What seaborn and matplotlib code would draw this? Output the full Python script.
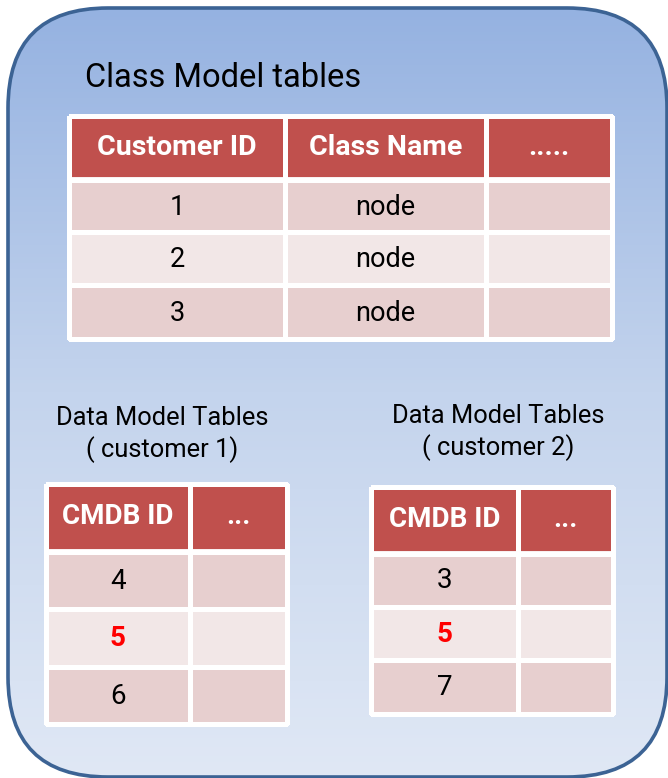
import numpy as np
import seaborn as sns
import matplotlib.pyplot as plt
from matplotlib.colors import ListedColormap, LinearSegmentedColormap
from matplotlib.patches import FancyBboxPatch

# data
class_header = ["Customer ID", "Class Name", "....."]
customer_ids = ["1", "2", "3"]
class_names = ["node", "node", "node"]

cmdb_header = ["CMDB ID", "..."]
customer1_ids = ["4", "5", "6"]
customer2_ids = ["3", "5", "7"]
shared_id = "5"

title_class = "Class Model tables"
title_cust1 = ["Data Model Tables", "( customer 1)"]
title_cust2 = ["Data Model Tables", "( customer 2)"]

# colours
HEADER = "#c0504d"
ROW_DARK = "#e7cfcf"
ROW_LIGHT = "#f2e7e7"
BORDER = "#3c6394"

sns.set_theme(style="white")
plt.rcParams['font.family'] = ['Roboto', 'DejaVu Sans']
plt.rcParams['text.color'] = 'black'

fig = plt.figure(figsize=(6.68, 7.78), dpi=100)
ax = fig.add_axes([0, 0, 1, 1])
ax.set_xlim(0, 668)
ax.set_ylim(778, 0)
ax.axis('off')

# background panel with vertical gradient
panel = FancyBboxPatch((8, 8), 659, 769, boxstyle="round,pad=0,rounding_size=100",
                       facecolor='none', edgecolor=BORDER, linewidth=2.6, zorder=3)
ax.add_patch(panel)
grad_cmap = LinearSegmentedColormap.from_list("bg", ["#95b2e1", "#c4d4ed", "#e0e8f5"])
grad = np.linspace(0, 1, 256).reshape(-1, 1)
img = ax.imshow(grad, cmap=grad_cmap, extent=(8, 667, 777, 8), aspect='auto',
                origin='upper', zorder=1)
img.set_clip_path(panel)

cmap = ListedColormap([HEADER, ROW_DARK, ROW_LIGHT])


def draw_table(x_edges, y_edges, header, columns, hfs, bfs):
    nrows = len(y_edges) - 1
    ncols = len(x_edges) - 1
    codes = np.array([[0] * ncols] + [[1 if i % 2 == 0 else 2] * ncols for i in range(nrows - 1)])
    ax.pcolormesh(x_edges, y_edges, codes, cmap=cmap, vmin=0, vmax=2,
                  edgecolors='white', linewidth=2.2, zorder=4)
    # thicker separator under the header
    ax.hlines(y_edges[1], x_edges[0], x_edges[-1], color='white', linewidth=4.2, zorder=5)
    xc = [(x_edges[i] + x_edges[i + 1]) / 2 for i in range(ncols)]
    yc = [(y_edges[i] + y_edges[i + 1]) / 2 for i in range(nrows)]
    for j, h in enumerate(header):
        ax.text(xc[j], yc[0] - 1, h, ha='center', va='center', color='white',
                fontsize=hfs, fontweight='bold', zorder=6)
    for j, col in enumerate(columns):
        for i, val in enumerate(col):
            red = val == shared_id
            ax.text(xc[j], yc[i + 1] + 1, val, ha='center', va='center',
                    color='#ff0000' if red else 'black',
                    fontweight='bold' if red else 'normal',
                    fontsize=bfs, zorder=6)


# class model table
ax.text(85, 87, title_class, ha='left', va='baseline', fontsize=23.5, zorder=6)
draw_table([69, 285, 486, 612], [116, 180, 232, 285, 339],
           class_header, [customer_ids, class_names], 20.5, 19.5)

# customer 1 table
ax.text(162, 425, title_cust1[0], ha='center', va='baseline', fontsize=18.4, zorder=6)
ax.text(162, 457, title_cust1[1], ha='center', va='baseline', fontsize=18.4, zorder=6)
draw_table([45.5, 190, 286.5], [484, 552, 608.5, 666.5, 724],
           cmdb_header, [customer1_ids], 20, 20)

# customer 2 table
ax.text(498, 423, title_cust2[0], ha='center', va='baseline', fontsize=18.4, zorder=6)
ax.text(498, 455, title_cust2[1], ha='center', va='baseline', fontsize=18.4, zorder=6)
draw_table([371, 518, 613], [487, 553.5, 606.5, 660, 713.5],
           cmdb_header, [customer2_ids], 20, 20)

fig.savefig("out.png", dpi=100)
